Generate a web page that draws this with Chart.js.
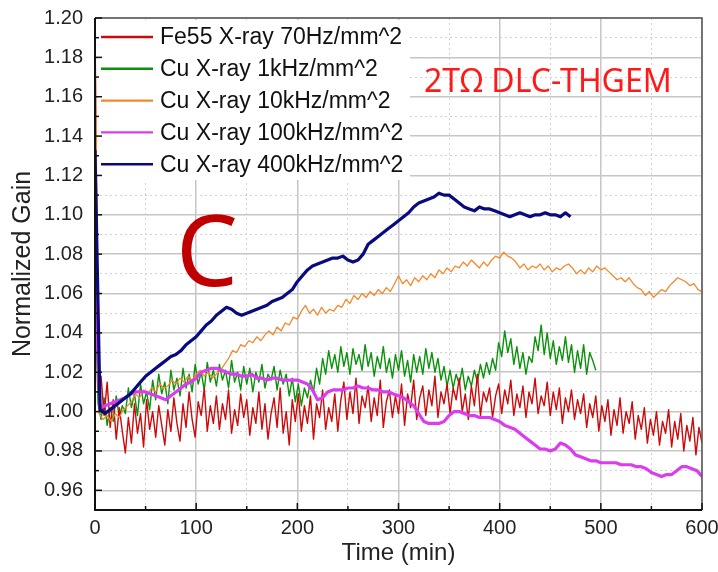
<!DOCTYPE html>
<html>
<head>
<meta charset="utf-8">
<script src="https://cdn.jsdelivr.net/npm/chart.js@4.4.1/dist/chart.umd.min.js"></script>
<style>
  html, body { margin: 0; padding: 0; background: #fff; }
  #wrap { width: 718px; height: 572px; }
</style>
</head>
<body>
<div id="wrap"><canvas id="gainChart" width="718" height="572"></canvas></div>
<script>
// legend labels, in the order of the legend
const seriesLabels = [
  'Fe55 X-ray 70Hz/mm^2',
  'Cu X-ray 1kHz/mm^2',
  'Cu X-ray 10kHz/mm^2',
  'Cu X-ray 100kHz/mm^2',
  'Cu X-ray 400kHz/mm^2'
];
const seriesColors = ['#cc0a0a', '#0a920a', '#f3892e', '#dc3cf0', '#0a0a80'];

// sampling interval (min) of each series
const fe55Step = 3;
const fe55Gain = [
  1.198, 1.012, 1.018, 0.998, 1.015, 0.992, 1.006, 0.986, 1.002, 0.990,
  0.979, 0.997, 0.984, 1.004, 0.989, 0.999, 0.982, 1.006, 0.991, 1.000,
  0.987, 1.003, 0.993, 0.983, 1.001, 0.990, 1.007, 0.994, 0.985, 1.004,
  0.992, 1.010, 0.996, 0.987, 1.005, 0.998, 1.012, 0.990, 1.003, 0.994,
  1.008, 0.991, 1.004, 0.996, 1.011, 0.989, 1.001, 0.993, 1.009, 0.997,
  1.006, 0.988, 1.002, 0.994, 1.010, 0.991, 1.004, 0.986, 0.999, 1.007,
  0.992, 1.012, 0.989, 1.000, 0.983, 1.006, 0.995, 1.009, 0.990, 1.003,
  0.994, 1.008, 0.986, 1.004, 0.997, 1.011, 0.991, 1.002, 0.995, 1.009,
  0.990, 1.006, 1.015, 0.996, 1.010, 0.999, 1.017, 0.994, 1.008, 1.002,
  1.013, 0.995, 1.007, 0.998, 1.016, 0.992, 1.005, 1.011, 0.997, 1.008,
  0.999, 1.014, 0.993, 1.009, 1.002, 1.016, 0.996, 1.007, 1.013, 0.998,
  1.011, 1.003, 1.018, 0.997, 1.010, 1.004, 1.014, 0.999, 1.012, 1.006,
  1.017, 1.000, 1.009, 0.996, 1.013, 1.003, 1.019, 0.998, 1.010, 1.005,
  1.012, 0.997, 1.008, 1.014, 0.999, 1.011, 1.004, 1.016, 0.998, 1.009,
  1.002, 1.013, 0.997, 1.010, 1.004, 1.017, 0.999, 1.008, 1.003, 1.015,
  0.998, 1.010, 1.001, 1.012, 0.994, 1.007, 1.000, 1.011, 0.996, 1.006,
  0.999, 1.009, 0.992, 1.004, 0.997, 1.008, 0.990, 1.003, 0.995, 1.006,
  0.988, 1.001, 0.993, 1.007, 0.989, 1.000, 0.994, 1.005, 0.986, 0.998,
  0.991, 1.002, 0.984, 0.996, 0.988, 1.000, 0.983, 0.995, 0.989, 1.001,
  0.982, 0.995, 0.986, 0.999, 0.980, 0.993, 0.985, 0.997, 0.978, 0.992, 0.984
];

const cu1kStep = 3;
const cu1kGain = [
  1.062, 1.004, 0.996, 1.007, 0.993, 1.002, 0.995, 1.008, 0.997, 1.003,
  0.999, 1.012, 1.002, 1.009, 0.998, 1.014, 1.004, 1.010, 1.001, 1.016,
  1.006, 1.019, 1.009, 1.015, 1.004, 1.021, 1.011, 1.017, 1.008, 1.022,
  1.012, 1.019, 1.010, 1.024, 1.014, 1.020, 1.011, 1.025, 1.015, 1.021,
  1.013, 1.024, 1.016, 1.021, 1.012, 1.026, 1.015, 1.020, 1.011, 1.023,
  1.014, 1.022, 1.010, 1.020, 1.015, 1.024, 1.012, 1.019, 1.016, 1.023,
  1.011, 1.021, 1.014, 1.019, 1.008, 1.017, 1.005, 1.014, 1.003, 1.012,
  1.007, 1.016, 1.010, 1.022, 1.014, 1.027, 1.019, 1.031, 1.022, 1.029,
  1.020, 1.033, 1.023, 1.030, 1.019, 1.032, 1.024, 1.029, 1.021, 1.034,
  1.023, 1.030, 1.018, 1.028, 1.022, 1.033, 1.020, 1.027, 1.017, 1.029,
  1.021, 1.031, 1.018, 1.026, 1.015, 1.029, 1.020, 1.028, 1.019, 1.032,
  1.022, 1.030, 1.020, 1.027, 1.016, 1.023, 1.013, 1.021, 1.012, 1.019,
  1.014, 1.022, 1.011, 1.018, 1.013, 1.021, 1.015, 1.024, 1.017, 1.025,
  1.019, 1.027, 1.021, 1.035, 1.028, 1.041, 1.030, 1.037, 1.024, 1.033,
  1.022, 1.030, 1.019, 1.028, 1.025, 1.038, 1.031, 1.044, 1.029, 1.040,
  1.027, 1.036, 1.024, 1.033, 1.026, 1.038, 1.025, 1.034, 1.020, 1.031,
  1.022, 1.034, 1.019, 1.030, 1.026, 1.021
];

const cu10kStep = 4;
const cu10kGain = [
  1.192, 0.999, 0.996, 0.998, 0.995, 0.999, 0.997, 1.001, 1.003, 1.005,
  1.009, 1.007, 1.011, 1.009, 1.012, 1.010, 1.014, 1.012, 1.013, 1.016,
  1.014, 1.017, 1.015, 1.018, 1.016, 1.019, 1.021, 1.018, 1.020, 1.017,
  1.019, 1.021, 1.024, 1.027, 1.031, 1.030, 1.034, 1.033, 1.036, 1.035,
  1.038, 1.036, 1.039, 1.041, 1.039, 1.043, 1.041, 1.045, 1.044, 1.048,
  1.047, 1.051, 1.054, 1.050, 1.052, 1.049, 1.053, 1.050, 1.052, 1.051,
  1.054, 1.053, 1.057, 1.055, 1.059, 1.057, 1.060, 1.058, 1.061, 1.059,
  1.062, 1.060, 1.063, 1.061, 1.065, 1.069, 1.065, 1.067, 1.064, 1.068,
  1.066, 1.069, 1.067, 1.070, 1.068, 1.072, 1.070, 1.073, 1.071, 1.074,
  1.073, 1.076, 1.074, 1.077, 1.075, 1.073, 1.076, 1.074, 1.077, 1.079,
  1.078, 1.081, 1.079, 1.078, 1.076, 1.073, 1.075, 1.072, 1.074, 1.073,
  1.075, 1.072, 1.074, 1.071, 1.073, 1.072, 1.074, 1.075, 1.073, 1.070,
  1.072, 1.070, 1.073, 1.071, 1.074, 1.072, 1.073, 1.071, 1.069, 1.067,
  1.068, 1.066, 1.068, 1.065, 1.063, 1.062, 1.059, 1.061, 1.058, 1.060,
  1.062, 1.061, 1.064, 1.066, 1.068, 1.067, 1.066, 1.064, 1.065, 1.062, 1.061
];

const cu100kStep = 5;
const cu100kGain = [
  1.067, 1.002, 1.003, 1.004, 1.005, 1.006, 1.007, 1.009, 1.010, 1.010,
  1.010, 1.009, 1.008, 1.007, 1.006, 1.008, 1.010, 1.012, 1.014, 1.015,
  1.017, 1.020, 1.021, 1.022, 1.022, 1.021, 1.020, 1.019, 1.019, 1.018,
  1.018, 1.019, 1.017, 1.017, 1.016, 1.017, 1.017, 1.016, 1.016, 1.016,
  1.016, 1.015, 1.014, 1.011, 1.006, 1.007, 1.010, 1.011, 1.011, 1.011,
  1.012, 1.012, 1.013, 1.012, 1.012, 1.011, 1.011, 1.010, 1.010, 1.009,
  1.008, 1.007, 1.005, 1.003, 0.999, 0.995, 0.994, 0.994, 0.994, 0.995,
  0.998, 1.000, 1.000, 0.999, 0.998, 0.998, 0.997, 0.997, 0.997, 0.996,
  0.995, 0.993, 0.992, 0.991, 0.989, 0.987, 0.985, 0.983, 0.981, 0.981,
  0.980, 0.981, 0.984, 0.983, 0.981, 0.978, 0.977, 0.976, 0.975, 0.975,
  0.974, 0.974, 0.974, 0.974, 0.973, 0.973, 0.973, 0.972, 0.972, 0.971,
  0.969, 0.968, 0.967, 0.968, 0.968, 0.970, 0.972, 0.972, 0.971, 0.970,
  0.967
];

const cu400kStep = 5;
const cu400kGain = [
  1.133, 1.001, 0.999, 1.001, 1.003, 1.005, 1.007, 1.009, 1.012, 1.015,
  1.018, 1.020, 1.022, 1.024, 1.026, 1.028, 1.029, 1.031, 1.034, 1.036,
  1.038, 1.041, 1.044, 1.046, 1.049, 1.051, 1.053, 1.052, 1.050, 1.049,
  1.050, 1.051, 1.052, 1.053, 1.054, 1.056, 1.057, 1.058, 1.060, 1.062,
  1.066, 1.069, 1.072, 1.074, 1.075, 1.076, 1.077, 1.078, 1.078, 1.079,
  1.077, 1.076, 1.077, 1.080, 1.085, 1.087, 1.089, 1.091, 1.093, 1.095,
  1.097, 1.099, 1.101, 1.104, 1.106, 1.107, 1.108, 1.109, 1.111, 1.110,
  1.110, 1.108, 1.106, 1.104, 1.103, 1.102, 1.104, 1.103, 1.103, 1.102,
  1.101, 1.100, 1.099, 1.100, 1.101, 1.100, 1.099, 1.100, 1.100, 1.101,
  1.100, 1.100, 1.099, 1.101, 1.099
];

const series = [
  { gain: fe55Gain, step: fe55Step, width: 1.4, order: 3 },
  { gain: cu1kGain, step: cu1kStep, width: 1.4, order: 4 },
  { gain: cu10kGain, step: cu10kStep, width: 1.3, order: 2 },
  { gain: cu100kGain, step: cu100kStep, width: 3.2, order: 1 },
  { gain: cu400kGain, step: cu400kStep, width: 3.2, order: 0 }
];

const isEven = (v) => Math.round(v * 100) % 2 === 0;
const isHundred = (v) => Math.round(v) % 100 === 0;
const FONT = '"Liberation Sans", Arial, sans-serif';

// white legend box, frame, inward ticks and the two notes
const decorations = {
  id: 'decorations',
  beforeDatasetsDraw(chart) {
    const { ctx, chartArea: a } = chart;
    ctx.save();
    ctx.fillStyle = '#fff';
    ctx.fillRect(a.left + 3, a.top + 2, 312, 160);
    ctx.restore();
  },
  afterDatasetsDraw(chart) {
    const { ctx, chartArea: a, scales } = chart;
    ctx.save();

    // frame
    ctx.strokeStyle = '#555';
    ctx.lineWidth = 1.5;
    ctx.beginPath();
    ctx.moveTo(a.left, a.top);
    ctx.lineTo(a.right, a.top);
    ctx.lineTo(a.right, a.bottom);
    ctx.stroke();
    ctx.strokeStyle = '#111';
    ctx.lineWidth = 2;
    ctx.beginPath();
    ctx.moveTo(a.left, a.top);
    ctx.lineTo(a.left, a.bottom);
    ctx.lineTo(a.right, a.bottom);
    ctx.stroke();

    // inward ticks
    ctx.lineWidth = 1.5;
    scales.y.ticks.forEach((t) => {
      const py = scales.y.getPixelForValue(t.value);
      const len = isEven(t.value) ? 7 : 4;
      ctx.beginPath();
      ctx.moveTo(a.left, py);
      ctx.lineTo(a.left + len, py);
      ctx.stroke();
    });
    scales.x.ticks.forEach((t) => {
      const px = scales.x.getPixelForValue(t.value);
      const len = isHundred(t.value) ? 7 : 4;
      ctx.beginPath();
      ctx.moveTo(px, a.bottom);
      ctx.lineTo(px, a.bottom - len);
      ctx.stroke();
    });

    // legend
    ctx.font = '23px ' + FONT;
    ctx.textBaseline = 'middle';
    seriesLabels.forEach((label, i) => {
      const y = a.top + 19 + i * 31.8;
      ctx.strokeStyle = seriesColors[i];
      ctx.lineWidth = 2.4;
      ctx.beginPath();
      ctx.moveTo(a.left + 6, y);
      ctx.lineTo(a.left + 58, y);
      ctx.stroke();
      ctx.fillStyle = '#111';
      ctx.fillText(label, a.left + 65, y + 1);
    });

    // notes
    ctx.textBaseline = 'alphabetic';
    ctx.fillStyle = '#ff1a1a';
    ctx.font = '32px "Noto Sans", "Open Sans", sans-serif';
    ctx.fillText('2TΩ DLC-THGEM', 424, 92);
    ctx.fillStyle = '#c00000';
    ctx.font = '98px "Noto Sans", "Open Sans", sans-serif';
    ctx.fillText('C', 176, 286);
    ctx.restore();
  }
};

new Chart(document.getElementById('gainChart'), {
  type: 'line',
  data: {
    datasets: series.map((s, i) => ({
      label: seriesLabels[i],
      data: s.gain.map((g, k) => ({ x: k * s.step, y: g })),
      borderColor: seriesColors[i],
      borderWidth: s.width,
      pointRadius: 0,
      tension: 0,
      borderJoinStyle: 'round',
      order: s.order
    }))
  },
  options: {
    responsive: false,
    animation: false,
    layout: { padding: { top: 18, right: 16, left: 0, bottom: 0 } },
    plugins: { legend: { display: false }, tooltip: { enabled: false } },
    scales: {
      x: {
        type: 'linear',
        min: 0,
        max: 600,
        afterFit: (s) => { s.height = 62; s.paddingLeft = 0; s.paddingRight = 0; },
        ticks: {
          stepSize: 50,
          autoSkip: false,
          maxRotation: 0,
          padding: 6,
          color: '#222',
          font: { family: FONT, size: 20 },
          callback: (v) => (isHundred(v) ? String(Math.round(v)) : '')
        },
        grid: {
          drawTicks: false,
          color: (c) => (c.tick && isHundred(c.tick.value) ? '#c6c6c6' : '#d2d2d2'),
          lineWidth: (c) => (c.tick && isHundred(c.tick.value) ? 1.5 : 1)
        },
        border: {
          display: false,
          dash: (c) => (c.tick && !isHundred(c.tick.value) ? [2, 3] : [])
        },
        title: {
          display: true,
          text: 'Time (min)',
          color: '#222',
          font: { family: FONT, size: 24 },
          padding: { top: 0, bottom: 4 }
        }
      },
      y: {
        min: 0.95,
        max: 1.2,
        afterFit: (s) => { s.width = 95; s.paddingTop = 0; s.paddingBottom = 0; },
        ticks: {
          stepSize: 0.01,
          autoSkip: false,
          padding: 12,
          color: '#222',
          font: { family: FONT, size: 20 },
          callback: (v) => (isEven(v) && Math.round(v * 100) !== 95 ? v.toFixed(2) : '')
        },
        grid: {
          drawTicks: false,
          color: (c) => (c.tick && isEven(c.tick.value) ? '#c6c6c6' : '#d2d2d2'),
          lineWidth: (c) => (c.tick && isEven(c.tick.value) ? 1.5 : 1)
        },
        border: {
          display: false,
          dash: (c) => (c.tick && !isEven(c.tick.value) ? [2, 3] : [])
        },
        title: {
          display: true,
          text: 'Normalized Gain',
          color: '#222',
          font: { family: FONT, size: 25 },
          padding: { top: 8, bottom: 0 }
        }
      }
    }
  },
  plugins: [decorations]
});
</script>
</body>
</html>
